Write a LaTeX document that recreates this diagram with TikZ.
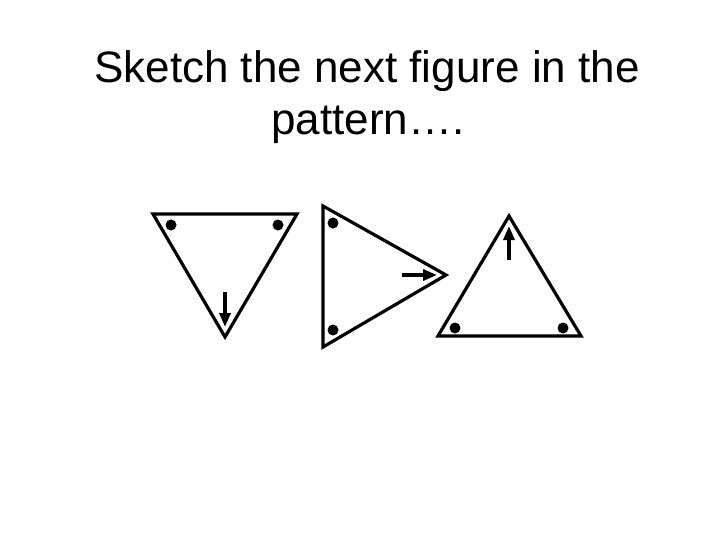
\documentclass[tikz,border=0pt]{standalone}
\usepackage{fontspec}
\setmainfont{Liberation Sans}
\usetikzlibrary{arrows.meta}
\tikzset{
  tri/.style={line width=3.2pt, line join=miter},
  dotmark/.style={fill=black},
  shaftarrow/.style={draw=black, line width=3.4pt, -{Triangle[length=14pt,width=11pt]}},
  titletext/.style={font=\fontsize{44}{52}\selectfont, anchor=base, inner sep=0pt}
}
\begin{document}
\begin{tikzpicture}[x=1pt,y=-1pt]
\useasboundingbox (0,0) rectangle (728,546);
\fill[white] (0,0) rectangle (728,546);
% title
\node[titletext] (title1) at (367,82) {Sketch the next figure in the};
\node[titletext] (title2) at (368,134) {pattern….};
% triangle 1 (pointing down)
\coordinate (a1) at (153,214);
\coordinate (a2) at (297,214);
\coordinate (a3) at (225,337);
\draw[tri] (a1) -- (a2) -- (a3) -- cycle;
\fill[dotmark] (171,225) circle (5.5);
\fill[dotmark] (278,225) circle (5.5);
\coordinate (p1s) at (225,292);
\coordinate (p1e) at (225,327);
\draw[shaftarrow] (p1s) -- (p1e);
% triangle 2 (pointing right)
\coordinate (b1) at (323,206);
\coordinate (b2) at (323,347);
\coordinate (b3) at (446,275);
\draw[tri] (b1) -- (b3) -- (b2) -- cycle;
\fill[dotmark] (333,223) circle (5.5);
\fill[dotmark] (333,330) circle (5.5);
\coordinate (p2s) at (402,275);
\coordinate (p2e) at (437,275);
\draw[shaftarrow] (p2s) -- (p2e);
% triangle 3 (pointing up)
\coordinate (c1) at (509,216);
\coordinate (c2) at (438,336);
\coordinate (c3) at (581,336);
\draw[tri] (c1) -- (c3) -- (c2) -- cycle;
\fill[dotmark] (455,328) circle (5.5);
\fill[dotmark] (563,328) circle (5.5);
\coordinate (p3s) at (509,260);
\coordinate (p3e) at (509,226);
\draw[shaftarrow] (p3s) -- (p3e);
\end{tikzpicture}
\end{document}
